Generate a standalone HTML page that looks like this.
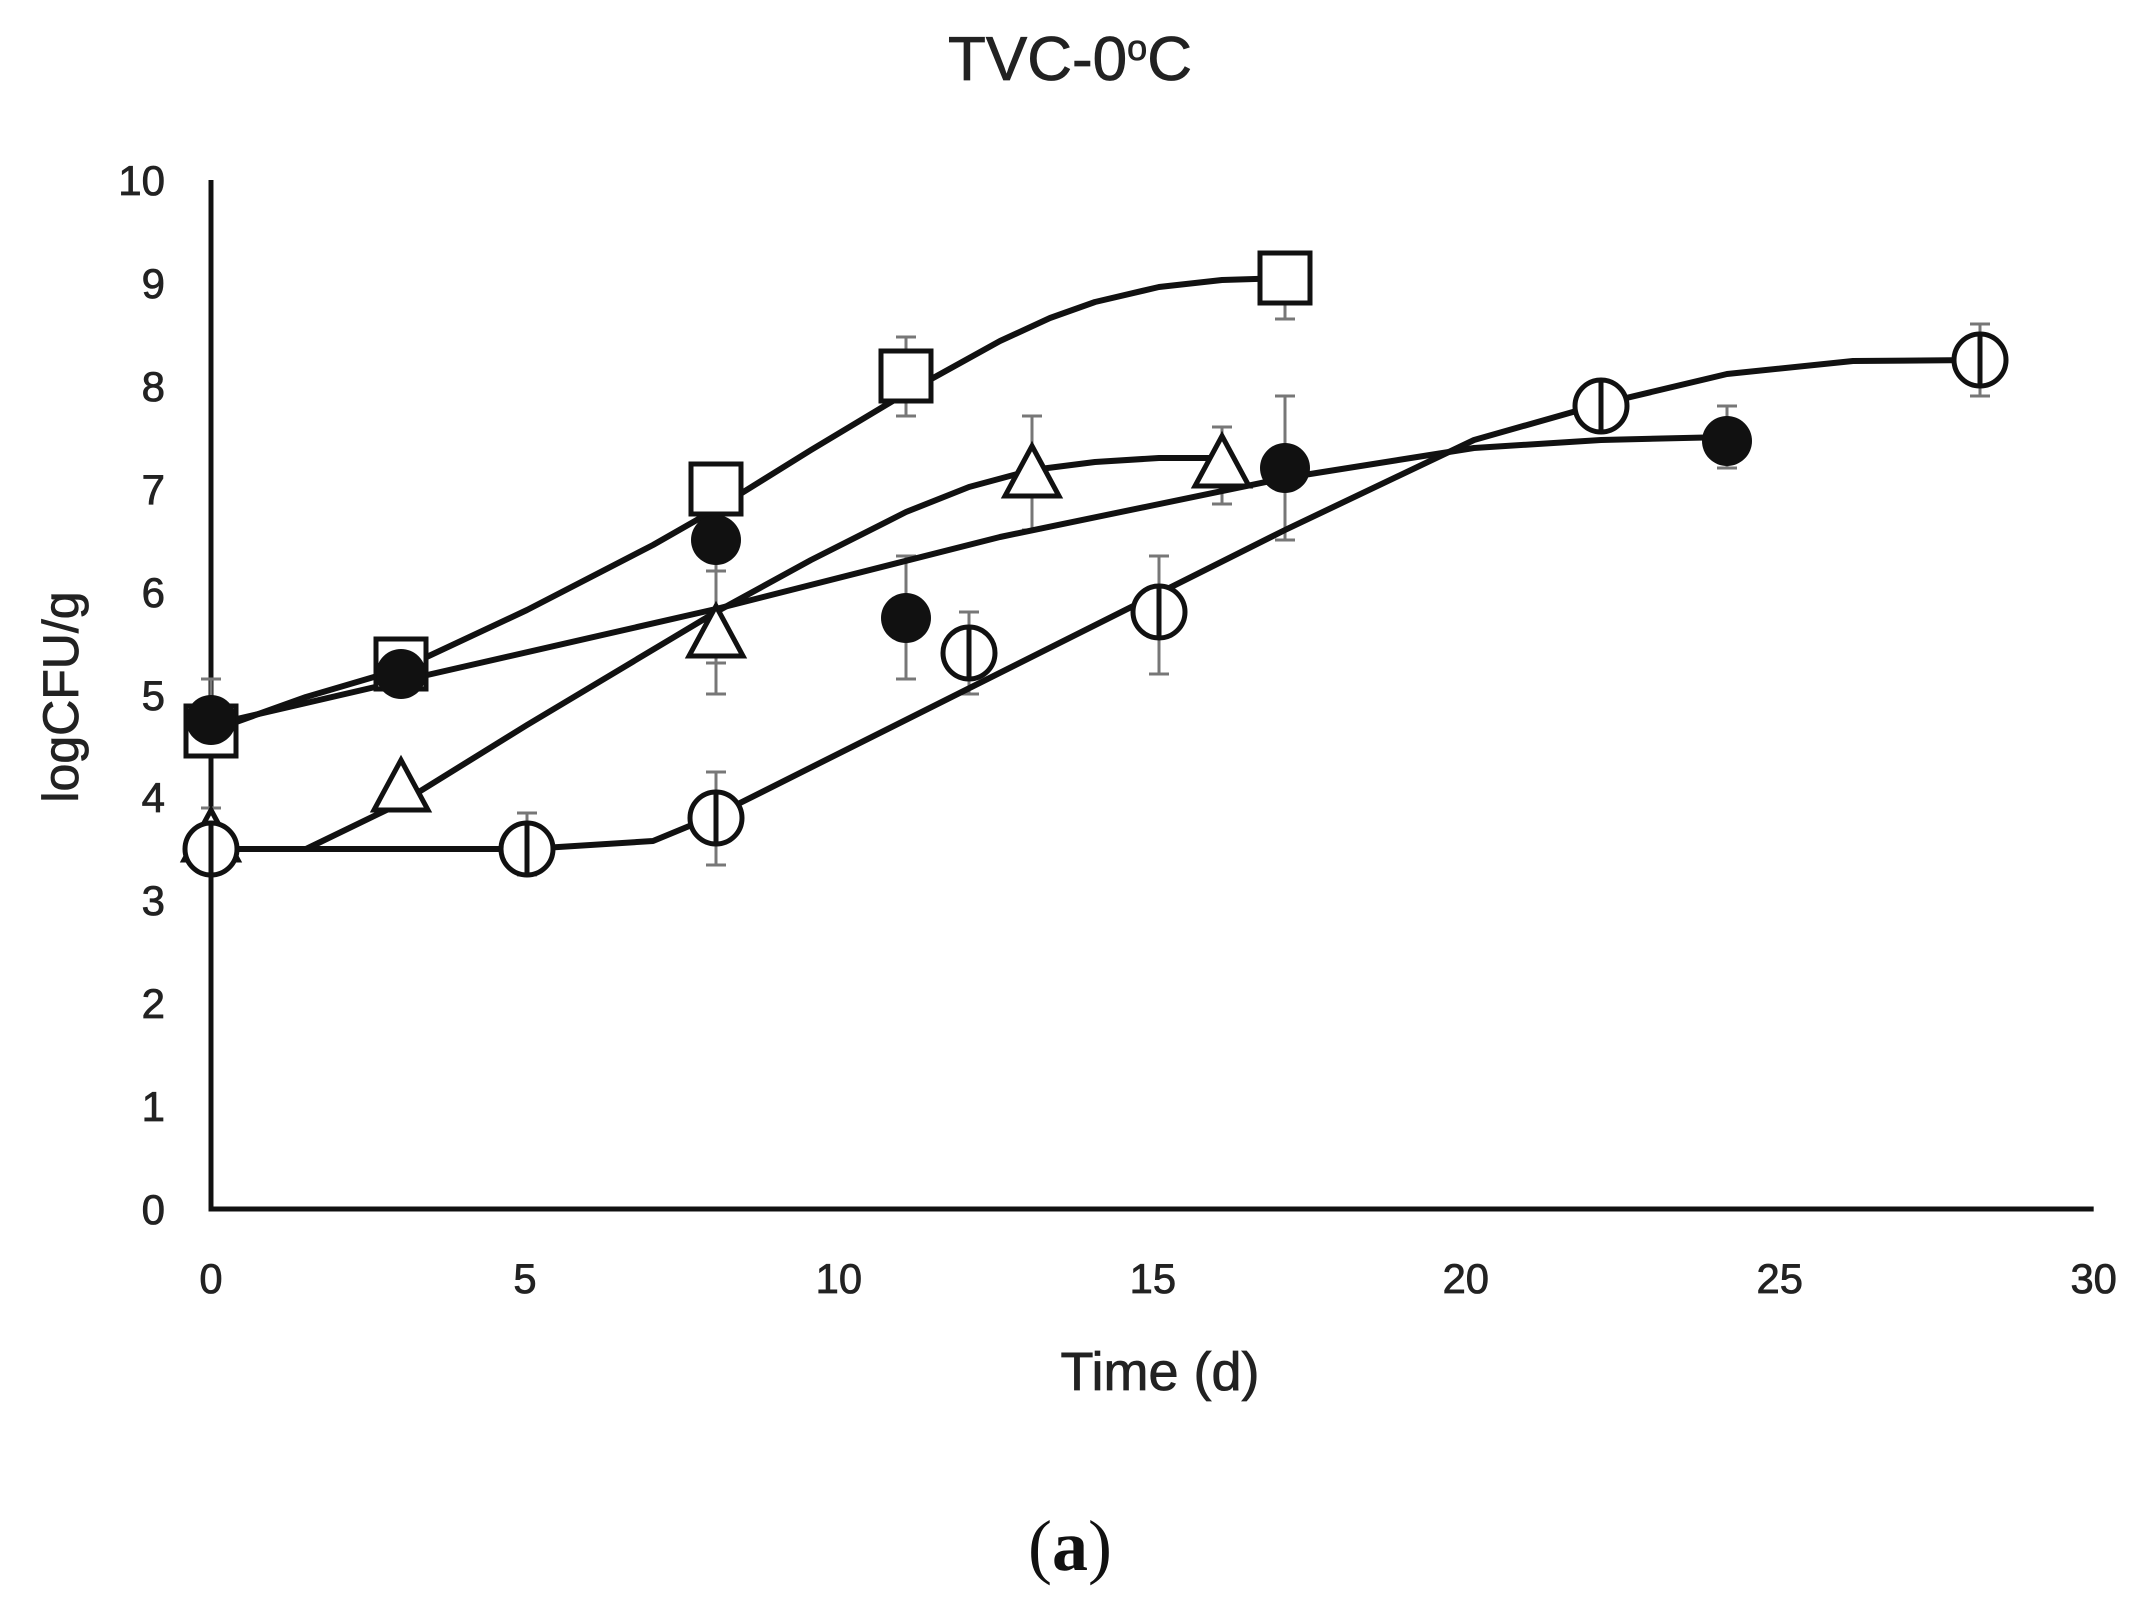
<!DOCTYPE html>
<html><head><meta charset="utf-8"><style>
html,body{margin:0;padding:0;background:#fff;}
svg{display:block;}
</style></head><body>
<svg width="2150" height="1609" viewBox="0 0 2150 1609" xmlns="http://www.w3.org/2000/svg" font-family="Liberation Sans, sans-serif">
<rect width="2150" height="1609" fill="#fff"/>
<text x="1070" y="80" font-size="62" text-anchor="middle" fill="#222" stroke="#222" stroke-width="0.8">TVC-0<tspan font-size="36" dy="-20">o</tspan><tspan dy="20">C</tspan></text>
<g font-size="42" fill="#222" stroke="#222" stroke-width="0.8" text-anchor="end">
<text x="165" y="1224">0</text><text x="165" y="1121">1</text><text x="165" y="1018">2</text><text x="165" y="915">3</text><text x="165" y="812">4</text><text x="165" y="710">5</text><text x="165" y="607">6</text><text x="165" y="504">7</text><text x="165" y="401">8</text><text x="165" y="298">9</text><text x="165" y="195">10</text>
</g>
<g transform="translate(211,0) scale(0.9935,1) translate(-211,0)">
<g font-size="42" fill="#222" stroke="#222" stroke-width="0.8" text-anchor="middle">
<text x="211" y="1293">0</text><text x="527" y="1293">5</text><text x="843" y="1293">10</text><text x="1159" y="1293">15</text><text x="1474" y="1293">20</text><text x="1790" y="1293">25</text><text x="2106" y="1293">30</text>
</g>
<path d="M211,180 L211,1209 L2106,1209" fill="none" stroke="#111" stroke-width="5"/>
</g>
<g>
<g stroke="#777" stroke-width="3" fill="none">
<path d="M906,337V416M896,337H916M896,416H916"/>
<path d="M1285,254V319M1275,254H1295M1275,319H1295"/>
<path d="M211,679V725M201,679H221"/>
<path d="M401,654V691M391,691H411"/>
<path d="M716,535V663M706,663H726"/>
<path d="M906,556V679M896,556H916M896,679H916"/>
<path d="M1285,396V540M1275,396H1295M1275,540H1295"/>
<path d="M1727,406V468M1717,406H1737M1717,468H1737"/>
<path d="M716,571V694M706,571H726M706,694H726"/>
<path d="M1032,416V530M1022,416H1042M1022,530H1042"/>
<path d="M1222,427V504M1212,427H1232M1212,504H1232"/>
<path d="M211,808V870M201,808H221"/>
<path d="M527,813V875M517,813H537M517,875H537"/>
<path d="M716,772V865M706,772H726M706,865H726"/>
<path d="M969,612V694M959,612H979M959,694H979"/>
<path d="M1159,556V674M1149,556H1169M1149,674H1169"/>
<path d="M1980,324V396M1970,324H1990M1970,396H1990"/>
</g>
<g stroke="#111" stroke-width="6" fill="none" stroke-linejoin="round" stroke-linecap="round">
<polyline points="211,731 306,697 401,669 527,610 653,545 716,509 811,450 906,393 1000,341 1050,318 1095,302 1159,287 1222,280 1285,278"/>
<polyline points="211,725 401,681 716,609 1000,537 1285,478 1474,448 1601,440 1727,437"/>
<polyline points="211,849 306,849 401,803 527,725 716,612 811,560 906,512 969,487 1032,470 1095,462 1159,458 1222,458"/>
<polyline points="211,849 527,849 653,841 716,815 1285,530 1474,440 1601,404 1727,374 1853,361 1980,360"/>
</g>
<g stroke="#111" stroke-width="5" fill="#fff">
<rect x="186" y="706" width="50" height="50"/>
<rect x="376" y="639" width="50" height="50"/>
<rect x="691" y="464" width="50" height="50"/>
<rect x="881" y="351" width="50" height="50"/>
<rect x="1260" y="253" width="50" height="50"/>
<path d="M211,810 L238,860 L184,860Z"/>
<path d="M401,760 L428,810 L374,810Z"/>
<path d="M716,606 L743,656 L689,656Z"/>
<path d="M1032,446 L1059,496 L1005,496Z"/>
<path d="M1222,436 L1249,486 L1195,486Z"/>
<circle cx="211" cy="849" r="26"/><path d="M211,823V875"/>
<circle cx="527" cy="849" r="26"/><path d="M527,823V875"/>
<circle cx="716" cy="818" r="26"/><path d="M716,792V844"/>
<circle cx="969" cy="653" r="26"/><path d="M969,627V679"/>
<circle cx="1159" cy="612" r="26"/><path d="M1159,586V638"/>
<circle cx="1601" cy="406" r="26"/><path d="M1601,380V432"/>
<circle cx="1980" cy="360" r="26"/><path d="M1980,334V386"/>
</g>
<g fill="#111">
<circle cx="211" cy="720" r="25"/>
<circle cx="401" cy="674" r="25"/>
<circle cx="716" cy="540" r="25"/>
<circle cx="906" cy="618" r="25"/>
<circle cx="1285" cy="468" r="25"/>
<circle cx="1727" cy="441" r="25"/>
</g>
</g>
<text x="1160" y="1390" font-size="54" text-anchor="middle" fill="#222" stroke="#222" stroke-width="0.8">Time (d)</text>
<text transform="translate(78,697) rotate(-90)" font-size="50" text-anchor="middle" fill="#222" stroke="#222" stroke-width="0.8">logCFU/g</text>
<text x="1070" y="1570" font-size="72" text-anchor="middle" font-family="Liberation Serif, serif" fill="#111">(<tspan font-weight="bold">a</tspan>)</text>
</svg>
</body></html>
